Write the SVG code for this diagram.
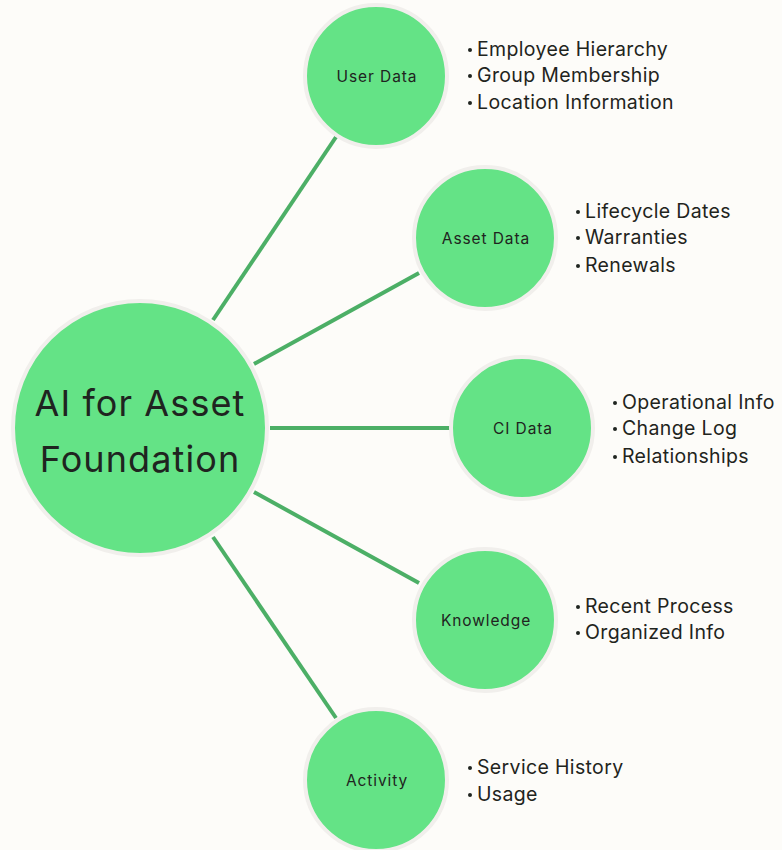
<svg xmlns="http://www.w3.org/2000/svg" width="782" height="850" viewBox="0 0 782 850">
<style>
.n{fill:#64e386;stroke:#f1efec;stroke-width:4}
.c{stroke:#4caf66;stroke-width:4;stroke-linecap:butt}
.lbl{font-family:Inter,"Open Sans",sans-serif;font-size:15.5px;letter-spacing:0.9px;fill:#1f2420;text-anchor:middle}
.main{font-family:Inter,"Open Sans",sans-serif;font-size:36px;letter-spacing:1.1px;fill:#1f2420;text-anchor:middle}
.b{font-family:Inter,"Open Sans",sans-serif;font-size:19.5px;letter-spacing:0.35px;fill:#1f2420}
.d{fill:#1f2420}
</style>
<rect width="782" height="850" fill="#fdfcf9"/>
<g id="connectors">
<line class="c" x1="213" y1="320" x2="336" y2="137"/>
<line class="c" x1="254" y1="364" x2="419" y2="273"/>
<line class="c" x1="270" y1="428" x2="450" y2="428"/>
<line class="c" x1="254" y1="492" x2="419" y2="583"/>
<line class="c" x1="213" y1="537" x2="336" y2="718"/>
</g>
<g id="root">
<circle class="n" cx="140" cy="428" r="127"/>
<text class="main" x="140" y="416">AI for Asset</text>
<text class="main" x="140" y="472">Foundation</text>
</g>
<g id="user-data">
<circle class="n" cx="376" cy="76" r="71"/>
<text class="lbl" x="377" y="82">User Data</text>
<circle class="d" cx="470" cy="50" r="2"/><text class="b" x="477" y="56">Employee Hierarchy</text>
<circle class="d" cx="470" cy="76" r="2"/><text class="b" x="477" y="82">Group Membership</text>
<circle class="d" cx="470" cy="103" r="2"/><text class="b" x="477" y="109">Location Information</text>
</g>
<g id="asset-data">
<circle class="n" cx="485" cy="238" r="71"/>
<text class="lbl" x="486" y="244">Asset Data</text>
<circle class="d" cx="578" cy="212" r="2"/><text class="b" x="585" y="218">Lifecycle Dates</text>
<circle class="d" cx="578" cy="238" r="2"/><text class="b" x="585" y="244">Warranties</text>
<circle class="d" cx="578" cy="266" r="2"/><text class="b" x="585" y="272">Renewals</text>
</g>
<g id="ci-data">
<circle class="n" cx="522" cy="428" r="71"/>
<text class="lbl" x="523" y="434">CI Data</text>
<circle class="d" cx="615" cy="403" r="2"/><text class="b" x="622" y="409">Operational Info</text>
<circle class="d" cx="615" cy="429" r="2"/><text class="b" x="622" y="435">Change Log</text>
<circle class="d" cx="615" cy="457" r="2"/><text class="b" x="622" y="463">Relationships</text>
</g>
<g id="knowledge">
<circle class="n" cx="485" cy="620" r="71"/>
<text class="lbl" x="486" y="626">Knowledge</text>
<circle class="d" cx="578" cy="607" r="2"/><text class="b" x="585" y="613">Recent Process</text>
<circle class="d" cx="578" cy="633" r="2"/><text class="b" x="585" y="639">Organized Info</text>
</g>
<g id="activity">
<circle class="n" cx="376" cy="780" r="71"/>
<text class="lbl" x="377" y="786">Activity</text>
<circle class="d" cx="470" cy="768" r="2"/><text class="b" x="477" y="774">Service History</text>
<circle class="d" cx="470" cy="795" r="2"/><text class="b" x="477" y="801">Usage</text>
</g>
</svg>
